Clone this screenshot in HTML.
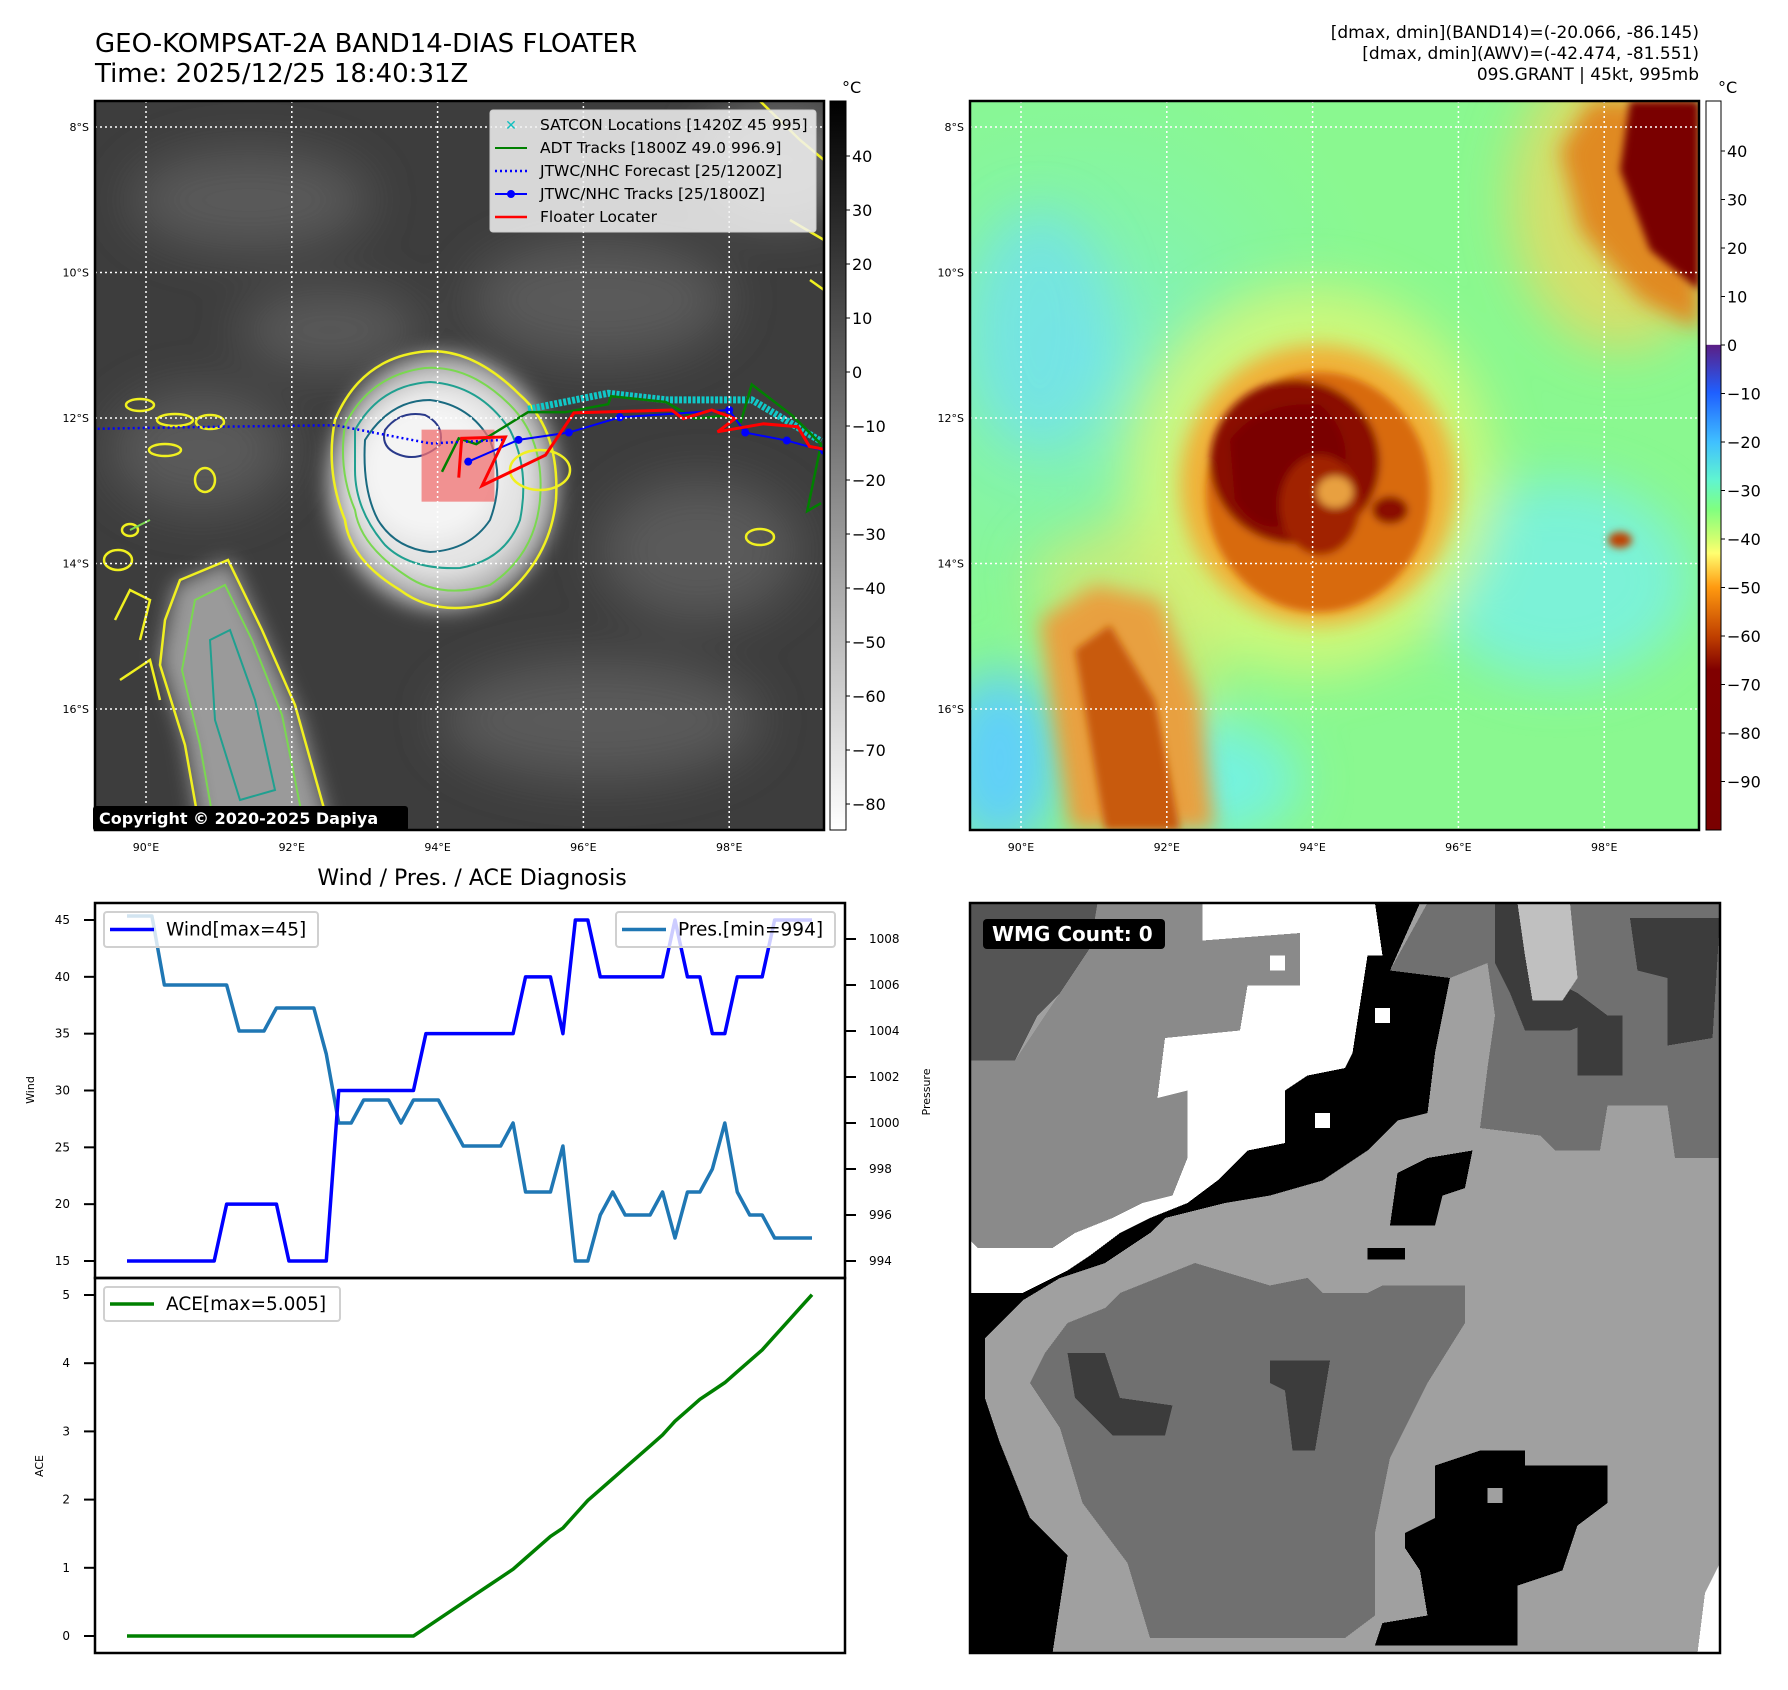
<!DOCTYPE html>
<html><head><meta charset="utf-8"><style>
html,body{margin:0;padding:0;background:#fff;}
svg{display:block;font-family:"DejaVu Sans","Liberation Sans",sans-serif;}
</style></head><body>
<svg id="root" width="1788" height="1690" viewBox="0 0 1788 1690" xmlns="http://www.w3.org/2000/svg">
<defs>
<filter id="b4" x="-20%" y="-20%" width="140%" height="140%"><feGaussianBlur stdDeviation="4"/></filter>
<filter id="b10" x="-30%" y="-30%" width="160%" height="160%"><feGaussianBlur stdDeviation="10"/></filter>
<filter id="b25" x="-50%" y="-50%" width="200%" height="200%"><feGaussianBlur stdDeviation="25"/></filter>
<clipPath id="cl"><rect x="95" y="101" width="729" height="729"/></clipPath>
<clipPath id="cr"><rect x="970" y="101" width="729" height="729"/></clipPath>
<clipPath id="cb"><rect x="970" y="903" width="750" height="750"/></clipPath>
<linearGradient id="gcb" x1="0" y1="0" x2="0" y2="1"><stop offset="0" stop-color="#000"/><stop offset="1" stop-color="#fff"/></linearGradient>
<linearGradient id="jcb" x1="0" y1="0" x2="0" y2="1">
<stop offset="0" stop-color="#fff"/><stop offset="0.334" stop-color="#fff"/><stop offset="0.335" stop-color="#5b1f86"/><stop offset="0.40" stop-color="#1f5fff"/><stop offset="0.468" stop-color="#40c0ff"/><stop offset="0.52" stop-color="#60f5d0"/><stop offset="0.56" stop-color="#80ff80"/><stop offset="0.60" stop-color="#d0ff70"/><stop offset="0.62" stop-color="#ffff70"/><stop offset="0.667" stop-color="#ff9a10"/><stop offset="0.734" stop-color="#c04000"/><stop offset="0.78" stop-color="#800000"/><stop offset="1" stop-color="#7a0000"/></linearGradient>
<radialGradient id="rbg" cx="0.15" cy="0.35" r="0.45"><stop offset="0" stop-color="#78e8f0" stop-opacity="0.7"/><stop offset="1" stop-color="#80f4a8" stop-opacity="0"/></radialGradient>
</defs>

<text x="95" y="52" font-size="26" fill="#000">GEO-KOMPSAT-2A BAND14-DIAS FLOATER</text>
<text x="95" y="82" font-size="26" fill="#000">Time: 2025/12/25 18:40:31Z</text>
<g font-size="17" text-anchor="end" fill="#000">
<text x="1699" y="38">[dmax, dmin](BAND14)=(-20.066, -86.145)</text>
<text x="1699" y="59">[dmax, dmin](AWV)=(-42.474, -81.551)</text>
<text x="1699" y="80">09S.GRANT | 45kt, 995mb</text>
</g>

<g id="leftmap" clip-path="url(#cl)">
<rect x="95" y="101" width="729" height="729" fill="#3d3d3d"/>
<g filter="url(#b25)" fill="#5a5a5a">
<ellipse cx="250" cy="200" rx="120" ry="50"/><ellipse cx="600" cy="300" rx="130" ry="60"/>
<ellipse cx="200" cy="450" rx="90" ry="60"/><ellipse cx="700" cy="550" rx="100" ry="70"/>
<ellipse cx="600" cy="720" rx="160" ry="60"/><ellipse cx="330" cy="330" rx="90" ry="40"/>
<ellipse cx="780" cy="160" rx="80" ry="60" fill="#6a6a6a"/>
</g>
<g filter="url(#b10)" fill="#9a9a9a">
<path d="M175 585 L230 560 L265 640 L300 720 L330 830 L200 830 L185 740 L160 660 Z"/>
</g>
<g filter="url(#b10)">
<ellipse cx="443" cy="482" rx="115" ry="128" fill="#b8b8b8"/>
<ellipse cx="440" cy="480" rx="95" ry="100" fill="#e4e4e4"/>
<ellipse cx="430" cy="470" rx="70" ry="70" fill="#f4f4f4"/>
</g>
<path d="M335 420 Q360 360 420 352 Q470 345 520 395 Q560 430 556 500 Q550 560 500 600 Q440 620 400 590 Q350 560 345 520 Q325 470 335 420 Z" fill="none" stroke="#f0f020" stroke-width="2.5"/>
<path d="M345 425 Q370 375 425 368 Q470 365 510 405 Q545 440 540 500 Q535 555 490 585 Q440 600 405 575 Q360 545 355 510 Q338 470 345 425 Z" fill="none" stroke="#7ad850" stroke-width="2"/>
<path d="M355 430 Q380 385 430 382 Q480 385 510 430 Q530 470 520 520 Q505 560 460 568 Q410 570 385 545 Q355 510 355 470 Z" fill="none" stroke="#20a090" stroke-width="2"/>
<path d="M365 440 Q390 400 430 400 Q470 405 490 440 Q505 480 490 520 Q470 550 430 552 Q395 548 378 520 Q362 490 365 440 Z" fill="none" stroke="#1a6a80" stroke-width="2"/>
<path d="M385 430 Q400 410 425 415 Q445 425 440 445 Q420 462 400 455 Q380 448 385 430 Z" fill="none" stroke="#2a3a8a" stroke-width="2"/>
<path d="M180 580 L228 560 L262 630 L295 705 L330 830 L200 830 L185 745 L160 665 L165 620 Z" fill="none" stroke="#f0f020" stroke-width="2.5"/>
<path d="M195 600 L225 585 L252 640 L282 715 L305 830 L215 830 L200 745 L182 670 Z" fill="none" stroke="#7ad850" stroke-width="2"/>
<path d="M210 640 L230 630 L255 700 L275 790 L240 800 L215 720 Z" fill="none" stroke="#20a090" stroke-width="2"/>
<g fill="none" stroke="#f0f020" stroke-width="2.5">
<ellipse cx="140" cy="405" rx="14" ry="6"/><ellipse cx="175" cy="420" rx="18" ry="6"/><ellipse cx="210" cy="422" rx="14" ry="7"/>
<ellipse cx="165" cy="450" rx="16" ry="6"/><ellipse cx="205" cy="480" rx="10" ry="12"/><ellipse cx="118" cy="560" rx="14" ry="10"/>
<ellipse cx="130" cy="530" rx="8" ry="6"/><ellipse cx="760" cy="537" rx="14" ry="8"/><ellipse cx="540" cy="470" rx="30" ry="20"/>
<path d="M760 101 L800 140 L824 160 M790 220 L824 240 M810 280 L824 290"/>
<path d="M115 620 L130 590 L150 600 L140 640 M120 680 L150 660 L160 700"/>
</g>
<line x1="130" y1="530" x2="150" y2="520" stroke="#7ad850" stroke-width="2"/>
<rect id="floaterbox" x="0" y="0" width="0" height="0" fill="#f07070" fill-opacity="0.75"/>
<g id="tracks"></g>
<g stroke="#fff" stroke-width="1.5" stroke-dasharray="2,3" id="lgrid"></g>
</g>
<rect x="95" y="101" width="729" height="729" fill="none" stroke="#000" stroke-width="2.5"/>
<g>
<rect x="490" y="110" width="326" height="122" rx="3" fill="#f2f2f2" fill-opacity="0.85" stroke="#ccc"/>
<g font-size="15.5" fill="#000">
<text x="540" y="130">SATCON Locations [1420Z 45 995]</text>
<text x="540" y="153">ADT Tracks [1800Z 49.0 996.9]</text>
<text x="540" y="176">JTWC/NHC Forecast [25/1200Z]</text>
<text x="540" y="199">JTWC/NHC Tracks [25/1800Z]</text>
<text x="540" y="222">Floater Locater</text>
</g>
<text x="511" y="130" font-size="14" fill="#10c0c0" text-anchor="middle" font-weight="bold">✕</text>
<line x1="495" y1="148" x2="527" y2="148" stroke="#008000" stroke-width="2"/>
<line x1="495" y1="171" x2="527" y2="171" stroke="#0000ff" stroke-width="2.5" stroke-dasharray="2,3"/>
<line x1="495" y1="194" x2="527" y2="194" stroke="#0000ff" stroke-width="2"/><circle cx="511" cy="194" r="4" fill="#0000ff"/>
<line x1="495" y1="217" x2="527" y2="217" stroke="#ff0000" stroke-width="2.5"/>
</g>
<g>
<rect x="93" y="806" width="315" height="25" rx="3" fill="#000"/>
<text x="99" y="824" font-size="16" font-weight="bold" fill="#fff">Copyright © 2020-2025 Dapiya</text>
</g>
<rect x="830" y="101" width="16" height="729" fill="url(#gcb)" stroke="#000" stroke-width="1"/>
<text x="842" y="93" font-size="16">°C</text>
<g id="lcbt" font-size="16"></g>

<g clip-path="url(#cr)">
<rect x="970" y="101" width="729" height="729" fill="#8af890"/>
<rect x="970" y="101" width="729" height="729" fill="url(#rbg)"/>
<g filter="url(#b25)">
<ellipse cx="1040" cy="330" rx="70" ry="120" fill="#70e0f0" opacity="0.7"/>
<ellipse cx="1000" cy="760" rx="60" ry="90" fill="#60d0f8"/>
<ellipse cx="1200" cy="780" rx="100" ry="60" fill="#70f0f0" opacity="0.8"/>
<ellipse cx="1560" cy="580" rx="130" ry="100" fill="#78f0e8" opacity="0.8"/>
<ellipse cx="1310" cy="480" rx="185" ry="195" fill="#e8f870" opacity="0.7"/>
<ellipse cx="1620" cy="200" rx="110" ry="150" fill="#e8d860" opacity="0.8"/>
<path d="M1030 560 L1110 520 L1210 560 L1220 700 L1130 740 L1050 640 Z" fill="#d8e870" opacity="0.7"/>
</g>
<g filter="url(#b10)">
<ellipse cx="1318" cy="485" rx="138" ry="140" fill="#f0b038"/>
<path d="M1040 620 L1095 585 L1160 600 L1200 700 L1215 830 L1070 830 L1055 730 Z" fill="#e8a040"/>
<path d="M1590 101 L1699 101 L1699 330 L1640 300 L1580 230 L1560 150 Z" fill="#e08a20"/>
</g>
<g filter="url(#b4)">
<ellipse cx="1318" cy="492" rx="112" ry="120" fill="#d86a10"/>
<ellipse cx="1295" cy="462" rx="85" ry="82" fill="#8a0800"/>
<path d="M1230 440 Q1260 400 1320 405 Q1350 430 1345 470 L1300 520 Q1260 540 1235 500 Z" fill="#7a0000"/>
<ellipse cx="1320" cy="505" rx="40" ry="50" fill="#a02000"/>
<ellipse cx="1335" cy="492" rx="18" ry="16" fill="#e8a040"/>
<path d="M1075 650 L1110 625 L1155 700 L1180 830 L1105 830 L1090 740 Z" fill="#c85a10"/>
<path d="M1630 101 L1699 101 L1699 290 L1650 250 L1620 170 Z" fill="#7a0000"/>
<ellipse cx="1390" cy="510" rx="18" ry="14" fill="#8a1000"/>
<ellipse cx="1620" cy="540" rx="12" ry="8" fill="#c04000"/>
</g>
<g stroke="#fff" stroke-width="1.5" stroke-dasharray="2,3" id="rgrid"></g>
</g>
<rect x="970" y="101" width="729" height="729" fill="none" stroke="#000" stroke-width="2.5"/>
<rect x="1706" y="101" width="15" height="729" fill="url(#jcb)" stroke="#000" stroke-width="1"/>
<text x="1718" y="93" font-size="16">°C</text>
<g id="rcbt" font-size="16"></g>
<g id="mapticks" font-size="11"></g>

<text x="472" y="885" font-size="22" text-anchor="middle">Wind / Pres. / ACE Diagnosis</text>
<g id="chart"></g>

<g clip-path="url(#cb)">
<svg x="970" y="903" width="750" height="750" viewBox="0 0 100 100" preserveAspectRatio="none" shape-rendering="crispEdges">
<rect x="0" y="0" width="100" height="100" fill="#a0a0a0"/>
<polygon fill="#555" points="0,0 17,0 16,8 9,15 6,21 0,21"/>
<polygon fill="#8a8a8a" points="0,21 6,21 12,12 16,6 17,0 31,0 31,5 44,4 44,11 37,11 36,17 26,18 25,26 29,25 29,34 27,39 23,40 19,42 14,44 11,46 1,46 0,45"/>
<polygon fill="#fff" points="31,0 54,0 55,7 53,7 51,20 50,22 45,23 42,25 42,32 37,33 35,35 33,37 29,40 24,42 20,44 16,47 13,49 7,52 0,52 0,45 1,46 11,46 14,44 19,42 23,40 27,39 29,34 29,25 25,26 26,18 36,17 37,11 44,11 44,4 31,5"/>
<polygon fill="#000" points="54,0 60,0 56,9 64,10 62,20 61,28 57,29 53,33 47,37 40,39 34,40 26,42 24,44 18,48 12,50 7,53 0,53 0,52 7,52 13,49 16,47 20,44 24,42 29,40 33,37 35,35 37,33 42,32 42,25 45,23 50,22 51,20 53,7 55,7"/>
<polygon fill="#000" points="0,53 7,53 2,58 2,66 4,72 8,82 13,87 11,100 0,100"/>
<polygon fill="#707070" points="56,9 61,0 100,0 100,34 94,34 93,27 85,27 84,33 78,33 76,31 68,30 69,22 70,15 69,8 64,10"/>
<polygon fill="#3c3c3c" points="70,0 78,0 77,10 81,12 85,15 80,17 74,17 72,12 70,8"/>
<polygon fill="#3c3c3c" points="88,2 100,2 99,18 93,19 93,10 89,9"/>
<polygon fill="#3c3c3c" points="81,15 87,15 87,23 81,23"/>
<polygon fill="#c0c0c0" points="73,0 80,0 81,10 79,13 75,13 74,7"/>
<polygon fill="#707070" points="20,52 30,48 40,51 45,50 47,52 53,52 55,51 66,51 66,56 61,64 56,74 54,84 54,95 50,98 24,98 21,88 15,80 12,70 8,64 10,60 13,56 18,54"/>
<polygon fill="#3c3c3c" points="13,60 18,60 20,66 27,67 26,71 19,71 14,66"/>
<polygon fill="#3c3c3c" points="40,61 48,61 46,73 43,73 42,65 40,64"/>
<polygon fill="#000" points="61,34 67,33 66,38 63,39 62,43 56,43 57,36"/>
<polygon fill="#000" points="53,46 58,46 58,47.5 53,47.5"/>
<polygon fill="#000" points="68,73 74,73 74,75 85,75 85,80 81,83 79,89 73,91 73,99 54,99 55,96 61,95 60,89 58,86 58,84 62,82 62,75"/>
<polygon fill="#a0a0a0" points="69,78 71,78 71,80 69,80"/>
<polygon fill="#fff" points="98,92 100,88 100,100 97,100"/>
<polygon fill="#fff" points="40,7 42,7 42,9 40,9"/><polygon fill="#fff" points="54,14 56,14 56,16 54,16"/><polygon fill="#fff" points="46,28 48,28 48,30 46,30"/>
</svg>
</g>
<rect x="970" y="903" width="750" height="750" fill="none" stroke="#000" stroke-width="2.5"/>
<g>
<rect x="983" y="919" width="182" height="30" rx="4" fill="#000"/>
<text x="992" y="941" font-size="20" font-weight="bold" fill="#fff">WMG Count: 0</text>
</g>
</svg>

<script>
const wind = [15,15,15,15,15,15,15,15,20,20,20,20,20,15,15,15,15,30,30,30,30,30,30,30,35,35,35,35,35,35,35,35,40,40,40,35,45,45,40,40,40,40,40,40,45,40,40,35,35,40,40,40,45,45,45,45];
const pres = [1009,1009,1009,1006,1006,1006,1006,1006,1006,1004,1004,1004,1005,1005,1005,1005,1003,1000,1000,1001,1001,1001,1000,1001,1001,1001,1000,999,999,999,999,1000,997,997,997,999,994,994,996,997,996,996,996,997,995,997,997,998,1000,997,996,996,995,995,995,995];
const ace = [0,0,0,0,0,0,0,0,0,0,0,0,0,0,0,0,0,0,0,0,0,0,0,0,0.1225,0.245,0.3675,0.49,0.6125,0.735,0.8575,0.98,1.14,1.3,1.46,1.5825,1.785,1.9875,2.1475,2.3075,2.4675,2.6275,2.7875,2.9475,3.15,3.31,3.47,3.5925,3.715,3.875,4.035,4.195,4.3975,4.6,4.8025,5.005];
const windTicks = [15,20,25,30,35,40,45];
const presTicks = [994,996,998,1000,1002,1004,1006,1008];
const aceTicks = [0,1,2,3,4,5];
const redLon = [94.29,94.33,94.93,94.61,95.48,95.87,97.21,97.37,97.76,98.08,97.84,98.47,98.94,99.10,99.30];
const redLat = [12.82,12.28,12.26,12.93,12.51,11.93,11.89,12.01,11.89,12.01,12.19,12.08,12.12,12.39,12.43];
const adtLon = [94.06,94.29,94.53,95.24,95.75,96.34,96.38,97.13,97.53,97.92,98.16,98.31,98.87,99.26,99.07,99.26];
const adtLat = [12.74,12.28,12.36,11.92,11.92,11.81,11.70,11.78,12.01,11.97,12.05,11.54,11.97,12.36,13.28,13.17];
const satLon = [95.24,96.34,97.13,98.31,99.26];
const satLat = [11.88,11.66,11.75,11.75,12.32];
const fcLon = [89.2,91.0,92.6,93.9,94.9];
const fcLat = [12.15,12.12,12.1,12.35,12.3];
const trkLon = [94.42,95.11,95.80,96.50,98.0,98.22,98.79,99.3];
const trkLat = [12.6,12.30,12.20,11.99,11.89,12.20,12.31,12.45];
const boxLon = [93.78,94.78];
const boxLat = [12.16,13.15];
const gridLon = [90,92,94,96,98];
const gridLat = [8,10,12,14,16];
const grayCbTicks = [40,30,20,10,0,-10,-20,-30,-40,-50,-60,-70,-80];
const colorCbTicks = [40,30,20,10,0,-10,-20,-30,-40,-50,-60,-70,-80,-90];

const NS='http://www.w3.org/2000/svg';
function mk(tag, attrs, parent){const e=document.createElementNS(NS,tag);for(const k in attrs)e.setAttribute(k,attrs[k]);parent.appendChild(e);return e;}
const LX = lon => 146 + (lon-90)*72.9;
const LY = lat => 127 + (lat-8)*72.75;

['lgrid','rgrid'].forEach((id,k)=>{
  const g=document.getElementById(id), off=k*875;
  gridLon.forEach(l=>{const e=mk('line',{x1:LX(l)+off,x2:LX(l)+off,y1:101,y2:830},g);
    
    });
  gridLat.forEach(l=>{const e=mk('line',{x1:95+off,x2:824+off,y1:LY(l),y2:LY(l)},g);
    
    });
});
const mt=document.getElementById('mapticks');
[0,875].forEach(off=>{
  gridLon.forEach(l=>{const t=mk('text',{x:LX(l)+off,y:851,'text-anchor':'middle'},mt);t.textContent=l+'°E';
    
    });
  gridLat.forEach(l=>{const t=mk('text',{x:89+off,y:LY(l)+4,'text-anchor':'end'},mt);t.textContent=l+'°S';
    
    });
});
const lc=document.getElementById('lcbt');
grayCbTicks.forEach(v=>{const y=156+(40-v)*5.4;
  mk('line',{x1:846,x2:850,y1:y,y2:y,stroke:'#000'},lc);
  const t=mk('text',{x:852,y:y+6},lc);t.textContent=(v<0?'\u2212'+(-v):v);
  
  });
const rc=document.getElementById('rcbt');
colorCbTicks.forEach(v=>{const y=151+(40-v)*4.85;
  mk('line',{x1:1721,x2:1725,y1:y,y2:y,stroke:'#000'},rc);
  const t=mk('text',{x:1727,y:y+6},rc);t.textContent=(v<0?'\u2212'+(-v):v);
  
  });
const box=document.getElementById('floaterbox');
box.setAttribute('x',LX(boxLon[0]));box.setAttribute('y',LY(boxLat[0]));
box.setAttribute('width',LX(boxLon[1])-LX(boxLon[0]));box.setAttribute('height',LY(boxLat[1])-LY(boxLat[0]));
const tg=document.getElementById('tracks');
const pts=(lo,la)=>lo.map((v,i)=>LX(v)+','+LY(la[i])).join(' ');
let e;
e=mk('polyline',{points:pts(satLon,satLat),fill:'none',stroke:'#10c8c8','stroke-width':7,'stroke-dasharray':'3,1.5'},tg);


e=mk('polyline',{points:pts(adtLon,adtLat),fill:'none',stroke:'#008000','stroke-width':2.5},tg);


e=mk('polyline',{points:pts(fcLon,fcLat),fill:'none',stroke:'#0000ff','stroke-width':2.5,'stroke-dasharray':'2,3'},tg);


e=mk('polyline',{points:pts(trkLon,trkLat),fill:'none',stroke:'#0000ff','stroke-width':2},tg);


trkLon.forEach((v,i)=>{const c=mk('circle',{cx:LX(v),cy:LY(trkLat[i]),r:4,fill:'#0000ff'},tg);
  
  });
e=mk('polyline',{points:pts(redLon,redLat),fill:'none',stroke:'#ff0000','stroke-width':3},tg);



const ch=document.getElementById('chart');
const X = i => 127 + i*(685/55);
const YW = v => 1261 - (v-15)*(341/30);
const YP = v => 1261 - (v-994)*23;
const YA = v => 1636 - v*68.2;
function axisText(x,y,txt,anchor,name){const t=mk('text',{x:x,y:y,'font-size':12,'text-anchor':anchor},ch);t.textContent=txt;
  
  return t;}
windTicks.forEach(v=>{mk('line',{x1:84,x2:95,y1:YW(v),y2:YW(v),stroke:'#000','stroke-width':2},ch);axisText(70,YW(v)+4,v,'end','wind-tick-label');});
presTicks.forEach(v=>{mk('line',{x1:845,x2:856,y1:YP(v),y2:YP(v),stroke:'#000','stroke-width':2},ch);axisText(869,YP(v)+4,v,'start','pressure-tick-label');});
aceTicks.forEach(v=>{mk('line',{x1:84,x2:95,y1:YA(v),y2:YA(v),stroke:'#000','stroke-width':2},ch);axisText(70,YA(v)+4,v,'end','ace-tick-label');});
let t=mk('text',{x:0,y:0,'font-size':11,'text-anchor':'middle',transform:'translate(34,1090) rotate(-90)'},ch);t.textContent='Wind';


t=mk('text',{x:0,y:0,'font-size':11,'text-anchor':'middle',transform:'translate(930,1092) rotate(-90)'},ch);t.textContent='Pressure';


t=mk('text',{x:0,y:0,'font-size':11,'text-anchor':'middle',transform:'translate(43,1466) rotate(-90)'},ch);t.textContent='ACE';



e=mk('polyline',{points:pres.map((v,i)=>X(i)+','+YP(v)).join(' '),fill:'none',stroke:'#1f77b4','stroke-width':3.5,'stroke-linejoin':'round'},ch);


e=mk('polyline',{points:wind.map((v,i)=>X(i)+','+YW(v)).join(' '),fill:'none',stroke:'#0000ff','stroke-width':3.5,'stroke-linejoin':'round'},ch);


e=mk('polyline',{points:ace.map((v,i)=>X(i)+','+YA(v)).join(' '),fill:'none',stroke:'#008000','stroke-width':3.5,'stroke-linejoin':'round'},ch);



function legend(x,y,w,h,color,label,name){
  const g=mk('g',{},ch);
  
  
  mk('rect',{x:x,y:y,width:w,height:h,rx:3,fill:'#fff','fill-opacity':0.8,stroke:'#d0d0d0','stroke-width':2},g);
  mk('line',{x1:x+6,x2:x+50,y1:y+h/2,y2:y+h/2,stroke:color,'stroke-width':3.5},g);
  const tt=mk('text',{x:x+62,y:y+h/2+6,'font-size':18.5},g);tt.textContent=label;
}
legend(104,912,214,35,'#0000ff','Wind[max=45]','wind-legend');
legend(616,912,219,35,'#1f77b4','Pres.[min=994]','pressure-legend');
legend(104,1287,236,34,'#008000','ACE[max=5.005]','ace-legend');
mk('rect',{x:95,y:903,width:750,height:375,fill:'none',stroke:'#000','stroke-width':2.5},ch);
mk('rect',{x:95,y:1278,width:750,height:375,fill:'none',stroke:'#000','stroke-width':2.5},ch);
</script>
</body></html>
